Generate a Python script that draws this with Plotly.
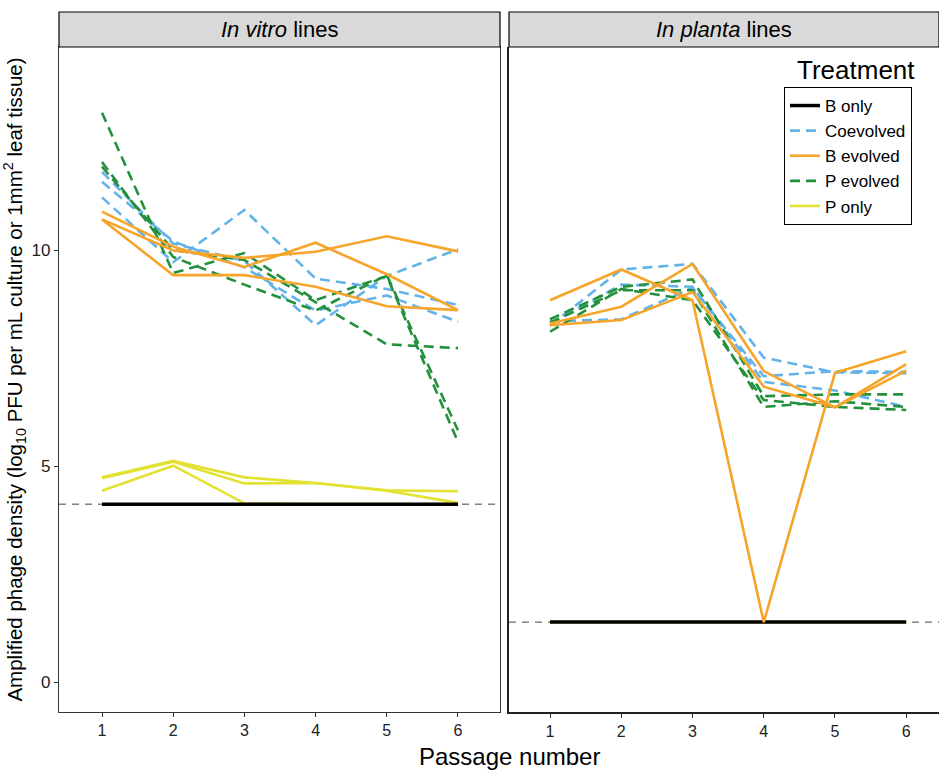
import plotly.graph_objects as go

passages = [1, 2, 3, 4, 5, 6]
tick_vals_y = [0, 5, 10]

# In vitro lines (left panel)
vitro_b_only = [[4.12, 4.12, 4.12, 4.12, 4.12, 4.12]]
vitro_coevolved = [
    [11.22, 9.72, 10.93, 9.34, 9.10, 8.73],
    [11.81, 10.15, 9.75, 8.26, 9.40, 10.02],
    [11.58, 10.20, 9.60, 8.60, 8.95, 8.34],
]
vitro_b_evolved = [
    [10.71, 9.42, 9.42, 9.15, 8.70, 8.61],
    [10.89, 10.08, 9.61, 10.17, 9.44, 8.61],
    [10.71, 9.99, 9.82, 9.96, 10.32, 9.97],
]
vitro_p_evolved = [
    [13.18, 9.47, 9.93, 8.84, 9.40, 5.56],
    [12.04, 9.84, 9.20, 8.60, 9.42, 5.83],
    [11.93, 10.00, 9.77, 8.80, 7.82, 7.73],
]
vitro_p_only = [
    [4.74, 5.12, 4.74, 4.61, 4.44, 4.42],
    [4.72, 5.10, 4.60, 4.61, 4.43, 4.15],
    [4.43, 5.01, 4.14, 4.12, 4.12, 4.12],
]
vitro_limit = 4.12

# In planta lines (right panel)
planta_b_only = [[1.39, 1.39, 1.39, 1.39, 1.39, 1.39]]
planta_coevolved = [
    [8.25, 9.55, 9.68, 7.51, 7.17, 7.15],
    [8.35, 8.40, 9.13, 7.08, 7.20, 7.18],
    [8.30, 9.20, 9.15, 6.95, 6.75, 6.37],
]
planta_b_evolved = [
    [8.84, 9.55, 8.84, 1.39, 7.16, 7.66],
    [8.26, 8.38, 9.03, 6.84, 6.36, 7.36],
    [8.30, 8.69, 9.68, 7.20, 6.36, 7.21],
]
planta_p_evolved = [
    [8.40, 9.15, 9.32, 6.62, 6.66, 6.66],
    [8.32, 9.07, 9.07, 6.37, 6.50, 6.37],
    [8.11, 9.10, 8.84, 6.53, 6.37, 6.30],
]
planta_p_only = [[1.39, 1.39, 1.39, 1.39, 1.39, 1.39]]
planta_limit = 1.39

treatments = ["B only", "Coevolved", "B evolved", "P evolved", "P only"]
colors = {"B only": "#000000", "Coevolved": "#63B3E8", "B evolved": "#F7A42A",
          "P evolved": "#23903C", "P only": "#E3E232"}
dashes = {"B only": "solid", "Coevolved": "10px,6px", "B evolved": "solid",
          "P evolved": "10px,6px", "P only": "solid"}
widths = {"B only": 3.5, "Coevolved": 2.6, "B evolved": 2.6, "P evolved": 2.6, "P only": 2.6}

FONT = "Liberation Sans, Arial, sans-serif"

fig = go.Figure()

draw_order = ["P only", "B only", "Coevolved", "P evolved", "B evolved"]
panel_data = [
    ("x", "y", {"B only": vitro_b_only, "Coevolved": vitro_coevolved, "B evolved": vitro_b_evolved,
                "P evolved": vitro_p_evolved, "P only": vitro_p_only}),
    ("x2", "y2", {"B only": planta_b_only, "Coevolved": planta_coevolved, "B evolved": planta_b_evolved,
                  "P evolved": planta_p_evolved, "P only": planta_p_only}),
]

shown = set()
for xa, ya, data in panel_data:
    for t in draw_order:
        for series in data[t]:
            show = t not in shown
            shown.add(t)
            fig.add_trace(go.Scatter(
                x=passages, y=series, mode="lines", xaxis=xa, yaxis=ya,
                name=t, legendgroup=t, showlegend=show,
                legendrank=treatments.index(t) + 1,
                line=dict(color=colors[t], width=widths[t], dash=dashes[t]),
                hoverinfo="skip",
            ))

L, R, T, B = 59, 0, 47, 58
W, H = 939, 770
pw = W - L - R
ph = H - T - B

def px_x(p):
    return (p - L) / pw

def px_y(p):
    return (H - B - p) / ph

left_dom = [0, px_x(500)]
right_dom = [px_x(509), 1]

yrange = [-0.69, 14.7]

fig.update_layout(
    width=W, height=H,
    margin=dict(l=L, r=R, t=T, b=B),
    paper_bgcolor="white", plot_bgcolor="white",
    font=dict(family=FONT, color="#000"),
    xaxis=dict(domain=left_dom, range=[0.396, 6.59], tickvals=passages, ticks="outside",
               ticklen=4, tickcolor="#333", showgrid=False, zeroline=False, showline=True,
               linecolor="#333", linewidth=1.2, mirror=True,
               tickfont=dict(size=16, color="#222")),
    yaxis=dict(domain=[0, 1], range=yrange, tickvals=tick_vals_y, ticks="outside",
               ticklen=4, tickcolor="#333", showgrid=False, zeroline=False, showline=True,
               linecolor="#333", linewidth=1.2, mirror=True,
               tickfont=dict(size=17, color="#222"),
               title=dict(text="Amplified phage density (log<sub>10</sub> PFU per mL culture or 1mm<sup>2</sup> leaf tissue)",
                          font=dict(size=20.5), standoff=8)),
    xaxis2=dict(domain=right_dom, range=[0.424, 6.46], tickvals=passages, ticks="outside",
                ticklen=4, tickcolor="#333", showgrid=False, zeroline=False, showline=True,
                linecolor="#222", linewidth=2, anchor="y2",
                tickfont=dict(size=16, color="#222")),
    yaxis2=dict(domain=[0, 1], range=yrange, anchor="x2", showticklabels=False, ticks="",
                showgrid=False, zeroline=False, showline=True, linecolor="#222", linewidth=2),
    showlegend=True,
    legend=dict(x=px_x(784), y=px_y(87), xanchor="left", yanchor="top",
                bordercolor="#000", borderwidth=1, bgcolor="white",
                font=dict(size=17, family=FONT), traceorder="normal",
                itemwidth=30, tracegroupgap=0),
)

# dashed detection-limit lines
for xa, ya, lim in [("x", "y", vitro_limit), ("x2", "y2", planta_limit)]:
    fig.add_shape(type="line", xref=f"{xa} domain", yref=ya, x0=0, x1=1, y0=lim, y1=lim,
                  line=dict(color="#444", width=1, dash="7px,6px"), layer="below")

# facet strips
strip_y0, strip_y1 = px_y(47), px_y(12)
for dom, label in [(left_dom, "<i>In vitro</i> lines"), (right_dom, "<i>In planta</i> lines")]:
    fig.add_shape(type="rect", xref="paper", yref="paper", x0=dom[0], x1=dom[1],
                  y0=strip_y0, y1=strip_y1, fillcolor="#D9D9D9", line=dict(color="#000", width=1.2))
    fig.add_annotation(xref="paper", yref="paper", x=(dom[0] + dom[1]) / 2,
                       y=(strip_y0 + strip_y1) / 2, text=label, showarrow=False,
                       font=dict(size=22, color="#000"), xanchor="center", yanchor="middle")

# x axis title
fig.add_annotation(xref="paper", yref="paper", x=px_x(510), y=px_y(756), text="Passage number",
                   showarrow=False, font=dict(size=24, color="#000"), xanchor="center", yanchor="middle")

# legend title
fig.add_annotation(xref="paper", yref="paper", x=px_x(856), y=px_y(70), text="Treatment",
                   showarrow=False, font=dict(size=26, color="#000"), xanchor="center", yanchor="middle")

fig.write_html("out.html")
